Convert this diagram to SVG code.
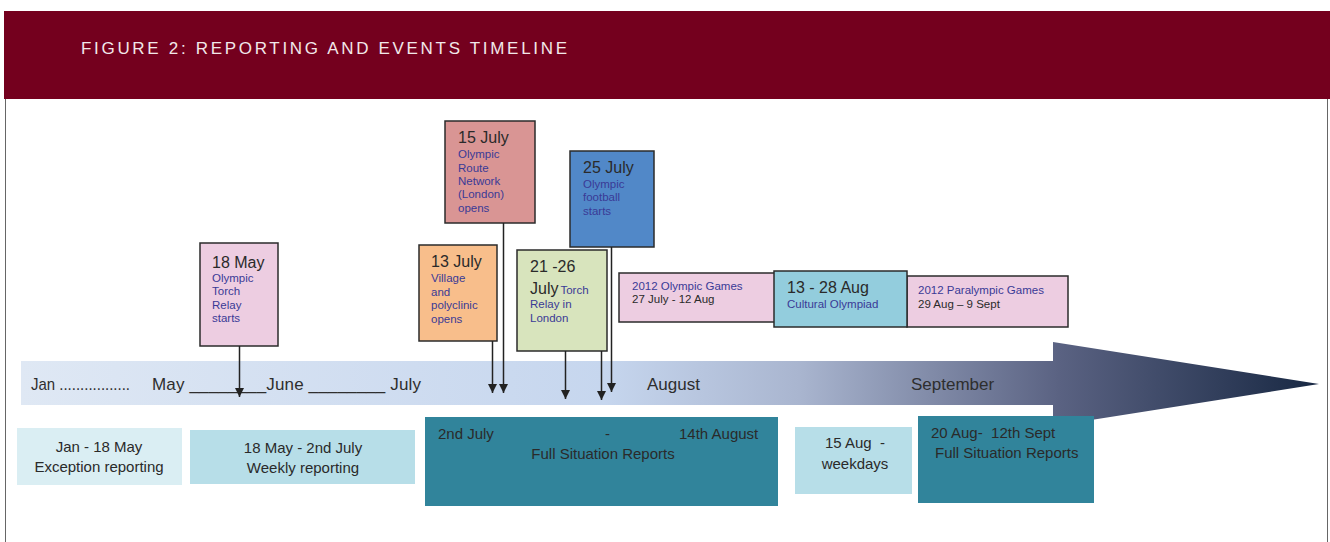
<svg xmlns="http://www.w3.org/2000/svg" width="1330" height="542" viewBox="0 0 1330 542">
<style>
.box{stroke:#2b2b2b;stroke-width:1.5}
.date{font-family:"Liberation Sans",Arial,sans-serif;font-size:16px;fill:#2a2a2a}
.sm{font-family:"Liberation Sans",Arial,sans-serif;font-size:11.5px;fill:#3a3a96}
.smd{font-family:"Liberation Sans",Arial,sans-serif;font-size:11.5px;fill:#2a2a2a}
.rep{font-family:"Liberation Sans",Arial,sans-serif;font-size:15px;fill:#2a2a2a;white-space:pre}
.mon{font-family:"Liberation Sans",Arial,sans-serif;font-size:17px;fill:#2e2e2e}
.conn{stroke:#222;stroke-width:1.5;fill:none}
</style>
<defs>
<linearGradient id="tl" x1="21" y1="0" x2="1319" y2="0" gradientUnits="userSpaceOnUse">
<stop offset="0" stop-color="#dfe8f4"/>
<stop offset="0.45" stop-color="#c6d6ee"/>
<stop offset="0.6" stop-color="#a9b5cf"/>
<stop offset="0.8" stop-color="#5a6282"/>
<stop offset="1" stop-color="#182843"/>
</linearGradient>
<marker id="ah" viewBox="0 0 10 10" refX="10" refY="5" markerWidth="9" markerHeight="9" markerUnits="userSpaceOnUse" orient="auto">
<path d="M0,0 L10,5 L0,10 z" fill="#222"/>
</marker>
</defs>
<rect width="1330" height="542" fill="#ffffff"/>
<g id="header">
<rect x="4" y="11" width="1326" height="88" fill="#74001e"/>
<text x="81" y="54" font-family="'Liberation Sans',Arial,sans-serif" font-size="17" fill="#f2e8ea" textLength="486" lengthAdjust="spacing">FIGURE 2: REPORTING AND EVENTS TIMELINE</text>
</g>
<g id="frame">
<line x1="5.5" y1="99" x2="5.5" y2="542" stroke="#666" stroke-width="1"/>
<line x1="1327.5" y1="99" x2="1327.5" y2="542" stroke="#666" stroke-width="1"/>
</g>
<g id="timeline">
<path d="M21,361 L1053,361 L1053,342 L1319,384 L1053,426 L1053,405 L21,405 Z" fill="url(#tl)"/>
<text class="mon" x="31" y="390" textLength="99" lengthAdjust="spacingAndGlyphs">Jan .................</text>
<text class="mon" x="152" y="390" textLength="269" lengthAdjust="spacing">May ________June ________ July</text>
<text class="mon" x="647" y="390">August</text>
<text class="mon" x="911" y="390">September</text>
</g>
<g id="n-18may">
<rect class="box" x="200" y="243" width="78" height="103" fill="#edcde1"/>
<text class="date" x="212" y="268">18 May</text>
<text class="sm" x="212" y="282">Olympic</text>
<text class="sm" x="212" y="295">Torch</text>
<text class="sm" x="212" y="309">Relay</text>
<text class="sm" x="212" y="322">starts</text>
</g>
<g id="n-15july">
<rect class="box" x="445" y="121" width="90" height="102" fill="#d99594"/>
<text class="date" x="458" y="143">15 July</text>
<text class="sm" x="458" y="158">Olympic</text>
<text class="sm" x="458" y="172">Route</text>
<text class="sm" x="458" y="185">Network</text>
<text class="sm" x="458" y="198">(London)</text>
<text class="sm" x="458" y="212">opens</text>
</g>
<g id="n-25july">
<rect class="box" x="570" y="151" width="84" height="96" fill="#5188c8"/>
<text class="date" x="583" y="173">25 July</text>
<text class="sm" x="583" y="188">Olympic</text>
<text class="sm" x="583" y="201">football</text>
<text class="sm" x="583" y="215">starts</text>
</g>
<g id="n-13july">
<rect class="box" x="419" y="245" width="78" height="96" fill="#f8be8b"/>
<text class="date" x="431" y="267">13 July</text>
<text class="sm" x="431" y="282">Village</text>
<text class="sm" x="431" y="296">and</text>
<text class="sm" x="431" y="309">polyclinic</text>
<text class="sm" x="431" y="323">opens</text>
</g>
<g id="n-2126july">
<rect class="box" x="517" y="250" width="90" height="101" fill="#d8e4bd"/>
<text class="date" x="530" y="272">21 -26</text>
<text class="date" x="530" y="294">July<tspan class="sm" dx="2">Torch</tspan></text>
<text class="sm" x="530" y="308">Relay in</text>
<text class="sm" x="530" y="322">London</text>
</g>
<g id="n-olympics">
<rect class="box" x="619" y="273" width="156" height="49" fill="#edcde1"/>
<text class="sm" x="632" y="290">2012 Olympic Games</text>
<text class="smd" x="632" y="303">27 July - 12 Aug</text>
</g>
<g id="n-paralympics">
<rect class="box" x="907" y="276" width="161" height="51" fill="#edcde1"/>
<text class="sm" x="918" y="294">2012 Paralympic Games</text>
<text class="smd" x="918" y="308">29 Aug – 9 Sept</text>
</g>
<g id="n-cultural">
<rect class="box" x="774" y="271" width="133" height="56" fill="#93cddd"/>
<text class="date" x="787" y="293">13 - 28 Aug</text>
<text class="sm" x="787" y="308">Cultural Olympiad</text>
</g>
<g id="connectors">
<line class="conn" x1="239.5" y1="346" x2="239.5" y2="397" marker-end="url(#ah)"/>
<line class="conn" x1="492.5" y1="341" x2="492.5" y2="393" marker-end="url(#ah)"/>
<line class="conn" x1="503.5" y1="223" x2="503.5" y2="393" marker-end="url(#ah)"/>
<line class="conn" x1="565.5" y1="351" x2="565.5" y2="399" marker-end="url(#ah)"/>
<line class="conn" x1="601.5" y1="351" x2="601.5" y2="400" marker-end="url(#ah)"/>
<line class="conn" x1="611.5" y1="247" x2="611.5" y2="392" marker-end="url(#ah)"/>
</g>
<g id="r-exception">
<rect x="17" y="428" width="165" height="57" fill="#daeef3"/>
<text class="rep" x="99" y="452" text-anchor="middle">Jan - 18 May</text>
<text class="rep" x="99" y="472" text-anchor="middle">Exception reporting</text>
</g>
<g id="r-weekly">
<rect x="190" y="430" width="225" height="54" fill="#b7dee8"/>
<text class="rep" x="303" y="453" text-anchor="middle">18 May - 2nd July</text>
<text class="rep" x="303" y="473" text-anchor="middle">Weekly reporting</text>
</g>
<g id="r-full1">
<rect x="425" y="417" width="353" height="89" fill="#31849b"/>
<text class="rep" x="438" y="439">2nd July</text>
<text class="rep" x="605" y="439">-</text>
<text class="rep" x="679" y="439">14th August</text>
<text class="rep" x="603" y="459" text-anchor="middle">Full Situation Reports</text>
</g>
<g id="r-weekdays">
<rect x="795" y="427" width="117" height="67" fill="#b7dee8"/>
<text class="rep" x="855" y="448" text-anchor="middle">15 Aug  -</text>
<text class="rep" x="855" y="469" text-anchor="middle">weekdays</text>
</g>
<g id="r-full2">
<rect x="918" y="416" width="176" height="87" fill="#31849b"/>
<text class="rep" x="931" y="438">20 Aug-  12th Sept</text>
<text class="rep" x="935" y="458">Full Situation Reports</text>
</g>
</svg>
